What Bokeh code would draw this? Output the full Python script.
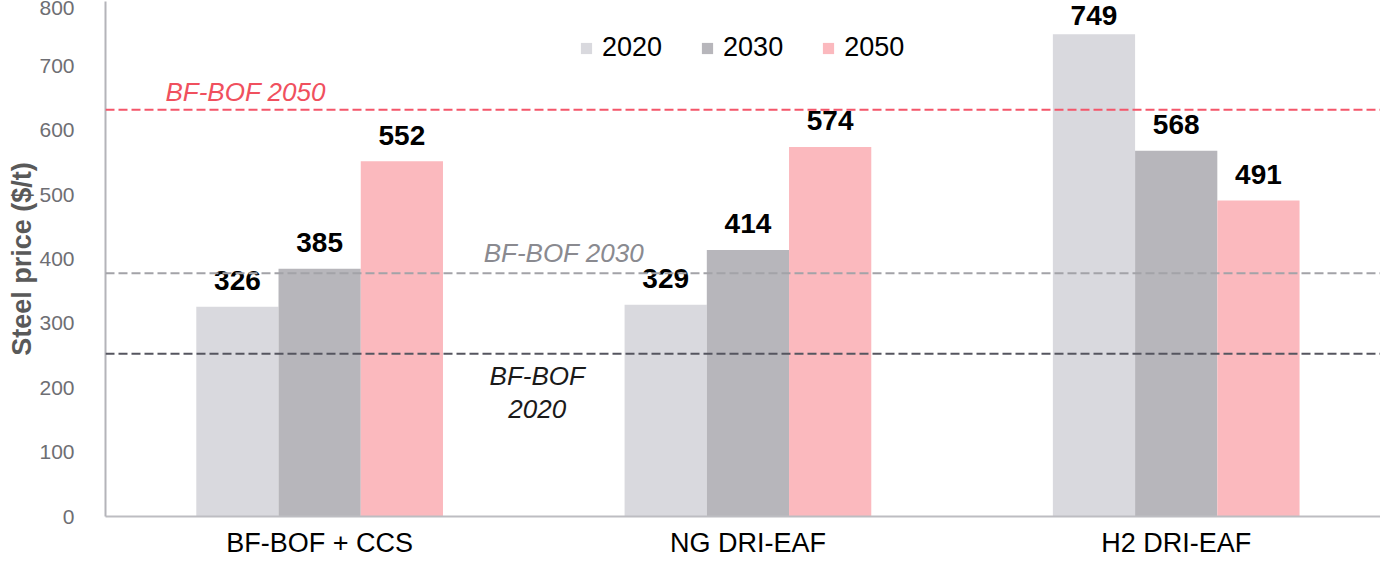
from bokeh.plotting import figure
from bokeh.models import Range1d, FixedTicker, Legend, LegendItem, Span
from bokeh.core.properties import value
from bokeh.embed import file_html
from bokeh.resources import INLINE

# ---- data ----
categories = ["BF-BOF + CCS", "NG DRI-EAF", "H2 DRI-EAF"]
years = ["2020", "2030", "2050"]
v2020 = [326, 329, 749]
v2030 = [385, 414, 568]
v2050 = [552, 574, 491]
ref_labels = ["BF-BOF 2020", "BF-BOF 2030", "BF-BOF 2050"]
ref_values = [253, 378, 632]
y_ticks = [0, 100, 200, 300, 400, 500, 600, 700, 800]

FONT = value("Liberation Sans")
bar_colors = ["#d9d9de", "#b7b6bb", "#fbb9be"]
ref_colors = ["#55555f", "#a3a3a8", "#f4566a"]
ref_text_colors = ["#1a1a1a", "#8a8a90", "#f0505e"]

p = figure(width=1380, height=560, x_range=Range1d(0, 2.977), y_range=Range1d(0, 800),
           output_backend="svg", toolbar_location=None,
           min_border_left=105, min_border_right=0, min_border_top=1, min_border_bottom=44)
p.outline_line_color = None
p.xgrid.visible = False
p.ygrid.visible = False
p.background_fill_color = "white"

# axes
p.xaxis.ticker = FixedTicker(ticks=[i + 0.5 for i in range(len(categories))])
p.xaxis.major_label_overrides = {i + 0.5: c for i, c in enumerate(categories)}
p.xaxis.major_tick_line_color = None
p.xaxis.minor_tick_line_color = None
p.xaxis.axis_line_color = "#bdbdc2"
p.xaxis.axis_line_width = 2
p.xaxis.major_label_text_font = "Liberation Sans"
p.xaxis.major_label_text_font_size = "27px"
p.xaxis.major_label_text_color = "black"
p.xaxis.major_label_standoff = 5

p.yaxis.ticker = FixedTicker(ticks=y_ticks)
p.yaxis.major_tick_line_color = None
p.yaxis.minor_tick_line_color = None
p.yaxis.axis_line_color = "#b4b4b9"
p.yaxis.axis_line_width = 2
p.yaxis.major_label_text_font = "Liberation Sans"
p.yaxis.major_label_text_font_size = "21px"
p.yaxis.major_label_text_color = "#6e6e73"
p.yaxis.major_label_standoff = 25
p.yaxis.axis_label = "Steel price ($/t)"
p.yaxis.axis_label_text_font = "Liberation Sans"
p.yaxis.axis_label_text_font_style = "bold"
p.yaxis.axis_label_text_font_size = "27px"
p.yaxis.axis_label_text_color = "#595959"
p.yaxis.axis_label_standoff = -1

# reference lines
for val, col in zip(ref_values, ref_colors):
    p.add_layout(Span(location=val, dimension="width", line_color=col,
                      line_width=2, line_dash="9 4"))

# bars
bar_w = 0.192
offsets = [-0.192, 0.0, 0.192]
renderers = []
for series, col, off in zip([v2020, v2030, v2050], bar_colors, offsets):
    xs = [i + 0.5 + off for i in range(len(categories))]
    r = p.vbar(x=xs, top=series, width=bar_w, fill_color=col, line_color=None)
    renderers.append(r)
    # keep the tallest label inside the canvas
    yoff = [-26 if v < 700 else -19 for v in series]
    p.text(x=xs, y=series, text=[str(v) for v in series], text_align="center",
           text_baseline="alphabetic", y_offset=yoff, text_font=FONT,
           text_font_style="bold", text_font_size="28px", text_color="black")

# reference labels
p.text(x=[0.14], y=[ref_values[2]], text=[ref_labels[2]], text_align="left",
       text_baseline="alphabetic", y_offset=-18, text_font=FONT, text_font_style="italic",
       text_font_size="26px", text_color=ref_text_colors[2])
p.text(x=[0.883], y=[ref_values[1]], text=[ref_labels[1]], text_align="left",
       text_baseline="alphabetic", y_offset=-20, text_font=FONT, text_font_style="italic",
       text_font_size="26px", text_color=ref_text_colors[1])
parts = ref_labels[0].split(" ")
p.text(x=[1.008], y=[ref_values[0]], text=[parts[0]], text_align="center",
       text_baseline="alphabetic", y_offset=22, text_font=FONT, text_font_style="italic",
       text_font_size="26px", text_color=ref_text_colors[0])
p.text(x=[1.008], y=[ref_values[0]], text=[parts[1]], text_align="center",
       text_baseline="alphabetic", y_offset=55, text_font=FONT, text_font_style="italic",
       text_font_size="26px", text_color=ref_text_colors[0])

legend = Legend(items=[LegendItem(label=y, renderers=[r]) for y, r in zip(years, renderers)],
                orientation="horizontal", location=(474, 453),
                glyph_width=14, glyph_height=14, label_standoff=9, spacing=38,
                padding=0, margin=0, border_line_color=None, background_fill_alpha=0,
                label_text_font="Liberation Sans", label_text_font_size="27px",
                label_text_color="black")
p.add_layout(legend)

open("out.html", "w").write(file_html(p, INLINE))
